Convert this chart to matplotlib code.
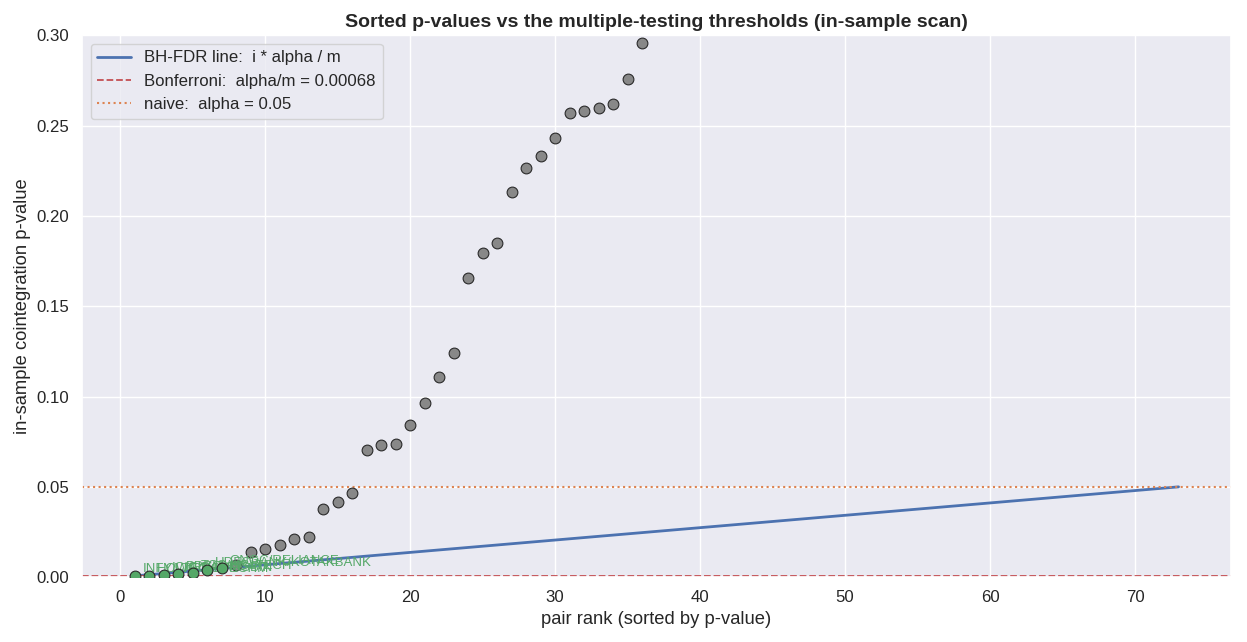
import matplotlib
matplotlib.use("Agg")
import matplotlib.pyplot as plt
import numpy as np
import seaborn as sns

sns.set_theme(style="darkgrid", font_scale=1.1)
plt.rcParams['font.family'] = ['Liberation Sans', 'DejaVu Sans']

# 排序后的 p 值（73 对）
p_sorted = [0.0004, 0.0006, 0.0010, 0.0016, 0.0022, 0.0038, 0.0048, 0.0066,
            0.0138, 0.0155, 0.0177, 0.0210, 0.0222, 0.0376, 0.0415, 0.0465,
            0.0703, 0.0730, 0.0736, 0.0841, 0.0963, 0.1107, 0.1240, 0.1655,
            0.1793, 0.1849, 0.2131, 0.2264, 0.2330, 0.2430, 0.2568, 0.2579,
            0.2600, 0.2618, 0.2760, 0.2955,
            0.31, 0.32, 0.34, 0.35, 0.37, 0.39, 0.40, 0.42, 0.44, 0.45,
            0.47, 0.49, 0.51, 0.53, 0.55, 0.57, 0.59, 0.61, 0.63, 0.65,
            0.67, 0.69, 0.71, 0.73, 0.75, 0.77, 0.79, 0.81, 0.83, 0.85,
            0.87, 0.89, 0.91, 0.93, 0.95, 0.97, 0.99]

# 通过 BH 检验的配对名称
sig_pairs = ["INFY/WIPRO", "HCLTECH/TECHM", "ICICIBANK/SBIN", "BPCL/IOC",
             "TCS/HCLTECH", "HDFCBANK/KOTAKBANK", "ONGC/RELIANCE"]

alpha = 0.05
m = len(p_sorted)
rank = np.arange(1, m + 1)
p = np.array(p_sorted)
bh = rank * alpha / m
bonf = alpha / m

n_sig = len(sig_pairs)

fig, ax = plt.subplots(figsize=(12.47, 6.42), dpi=100)
fig.subplots_adjust(left=0.066, right=0.987, top=0.945, bottom=0.101)

ax.plot(rank, bh, color='#4C72B0', lw=2, label='BH-FDR line:  i * alpha / m', zorder=2)
ax.axhline(bonf, color='#C44E52', ls='--', lw=1.3,
           label='Bonferroni:  alpha/m = %.5f' % bonf)
ax.axhline(alpha, color='#DD8452', ls=':', lw=1.5, label='naive:  alpha = 0.05')

ax.scatter(rank[n_sig:], p[n_sig:], s=60, color='#888888', edgecolor='#2a2a2a',
           linewidth=0.8, zorder=3)
ax.scatter(rank[:n_sig], p[:n_sig], s=60, color='#55A868', edgecolor='#2a2a2a',
           linewidth=0.8, zorder=4)

# 标注显著配对
for i in range(n_sig):
    ax.annotate(sig_pairs[i], (rank[i], p[i]), xytext=(6, 3),
                textcoords='offset points', fontsize=9.5, color='#55A868')

ax.set_ylim(0, 0.30)
ax.set_xlabel('pair rank (sorted by p-value)')
ax.set_ylabel('in-sample cointegration p-value')
ax.set_title('Sorted p-values vs the multiple-testing thresholds (in-sample scan)',
             fontsize=14, fontweight='bold')
ax.legend(loc='upper left')

plt.savefig('out.png')
